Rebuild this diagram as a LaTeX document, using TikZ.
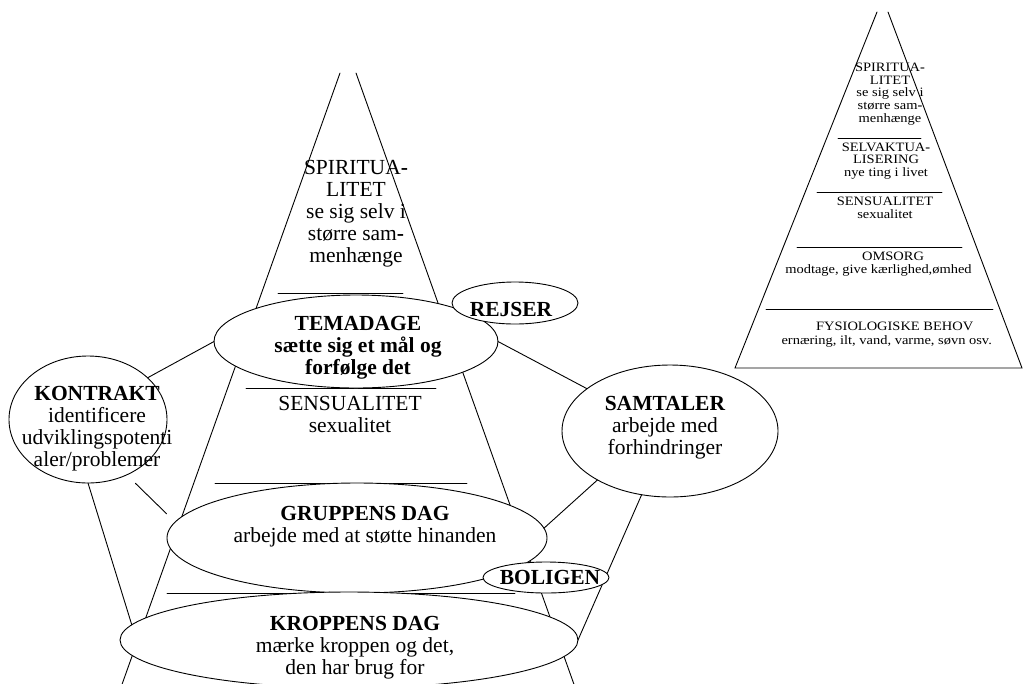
\documentclass[tikz,border=0pt]{standalone}
\usepackage{fontspec}
\setmainfont{Liberation Serif}
\newfontfamily\wideserif[FakeStretch=1.13]{Liberation Serif}
\usetikzlibrary{shapes.geometric}

\begin{document}
\begin{tikzpicture}[x=1pt, y=-1pt,
  edge/.style={line width=0.9pt, line cap=round},
  bubble/.style={ellipse, draw, fill=white, line width=0.9pt, inner sep=0pt, outer sep=0pt},
  bigtxt/.style={align=center, inner sep=0pt, font=\fontsize{21.5}{22}\selectfont},
  boldtxt/.style={align=center, inner sep=0pt, font=\fontsize{21.5}{22}\selectfont\bfseries},
  smalltxt/.style={align=center, inner sep=0pt, font=\wideserif\fontsize{12.8}{12.7}\selectfont},
]
\useasboundingbox (0,0) rectangle (1024,683);

% large pyramid: open apex, sides and level lines
\draw[edge] (340,73) -- (120,690);
\draw[edge] (356,73) -- (576,690);
\draw[edge] (278,293) -- (403,293);
\draw[edge] (246,388) -- (436,388);
\draw[edge] (215,483) -- (467,483);
\draw[edge] (167,593) -- (515,593);

% activity ellipses
\node[bubble, minimum width=158pt, minimum height=127pt] (kontrakt) at (88,419.5) {};
\node[bubble, minimum width=216pt, minimum height=132pt] (samtaler) at (670,431) {};
\node[bubble, minimum width=284pt, minimum height=93pt] (temadage) at (356,341.5) {};
\node[bubble, minimum width=126pt, minimum height=42pt] (rejser) at (515,303) {};
\node[bubble, minimum width=380pt, minimum height=110pt] (gruppens) at (357,538) {};
\node[bubble, minimum width=458pt, minimum height=96pt] (kroppens) at (349,640) {};

% connectors between the activities
\draw[edge] (kontrakt.35) -- (temadage.west);
\draw[edge] (temadage.east) -- (samtaler.153);
\draw[edge] (samtaler.214) -- (gruppens.3);
\draw[edge] (samtaler.246) -- (kroppens.east);
\draw[edge] (kontrakt.south) -- (kroppens.176);
\draw[edge, shorten <=12pt, shorten >=12pt] (kontrakt.-55) -- (gruppens.175);

\node[bubble, minimum width=126pt, minimum height=31pt] (boligen) at (546,577.5) {};

% texts of the large pyramid
\node[bigtxt] (spirit) at (356,213.3) {SPIRITUA\textbf{-}\\LITET\\se sig selv i\\større sam\textbf{-}\\menhænge};
\node[boldtxt] (temadage-t) at (358,347.3) {TEMADAGE\\sætte sig et mål og\\forfølge det};
\node[bigtxt] (sensual) at (350,414) {SENSUALITET\\sexualitet};
\node[bigtxt] (kontrakt-t) at (97,428.3) {\textbf{KONTRAKT}\\identificere\\udviklingspotenti\\aler/problemer};
\node[bigtxt] (samtaler-t) at (665,427.3) {\textbf{SAMTALER}\\arbejde med\\forhindringer};
\node[bigtxt] (gruppens-t) at (365,526.3) {\textbf{GRUPPENS DAG}\\arbejde med at støtte hinanden};
\node[bigtxt] (kroppens-t) at (355,647.3) {\textbf{KROPPENS DAG}\\mærke kroppen og det,\\den har brug for};
\node[boldtxt] (rejser-t) at (511,309) {REJSER};
\node[boldtxt] (boligen-t) at (550,577) {BOLIGEN};

% small pyramid of needs
\draw[edge] (877,12) -- (735,368) -- (1022,368) -- (888,12);
\draw[edge] (838,138) -- (921,138);
\draw[edge] (817,192.5) -- (942,192.5);
\draw[edge] (797,247) -- (962,247);
\draw[edge] (766,309) -- (993,309);

\node[smalltxt] (n-spirit) at (890,94) {SPIRITUA\textbf{-}\\LITET\\se sig selv i\\større sam\textbf{-}\\menhænge};
\node[smalltxt] (n-selv) at (886,161) {SELVAKTUA\textbf{-}\\LISERING\\nye ting i livet};
\node[smalltxt] (n-sensual) at (885,208) {SENSUALITET\\sexualitet};
\node[smalltxt] (n-omsorg) at (878.5,264) {\hspace*{29pt}OMSORG\\modtage, give kærlighed,ømhed};
\node[smalltxt, font=\wideserif\fontsize{12.8}{14}\selectfont] (n-fysio) at (886.7,335) {\hspace*{16pt}FYSIOLOGISKE BEHOV\\ernæring, ilt, vand, varme, søvn osv.};
\end{tikzpicture}
\end{document}
